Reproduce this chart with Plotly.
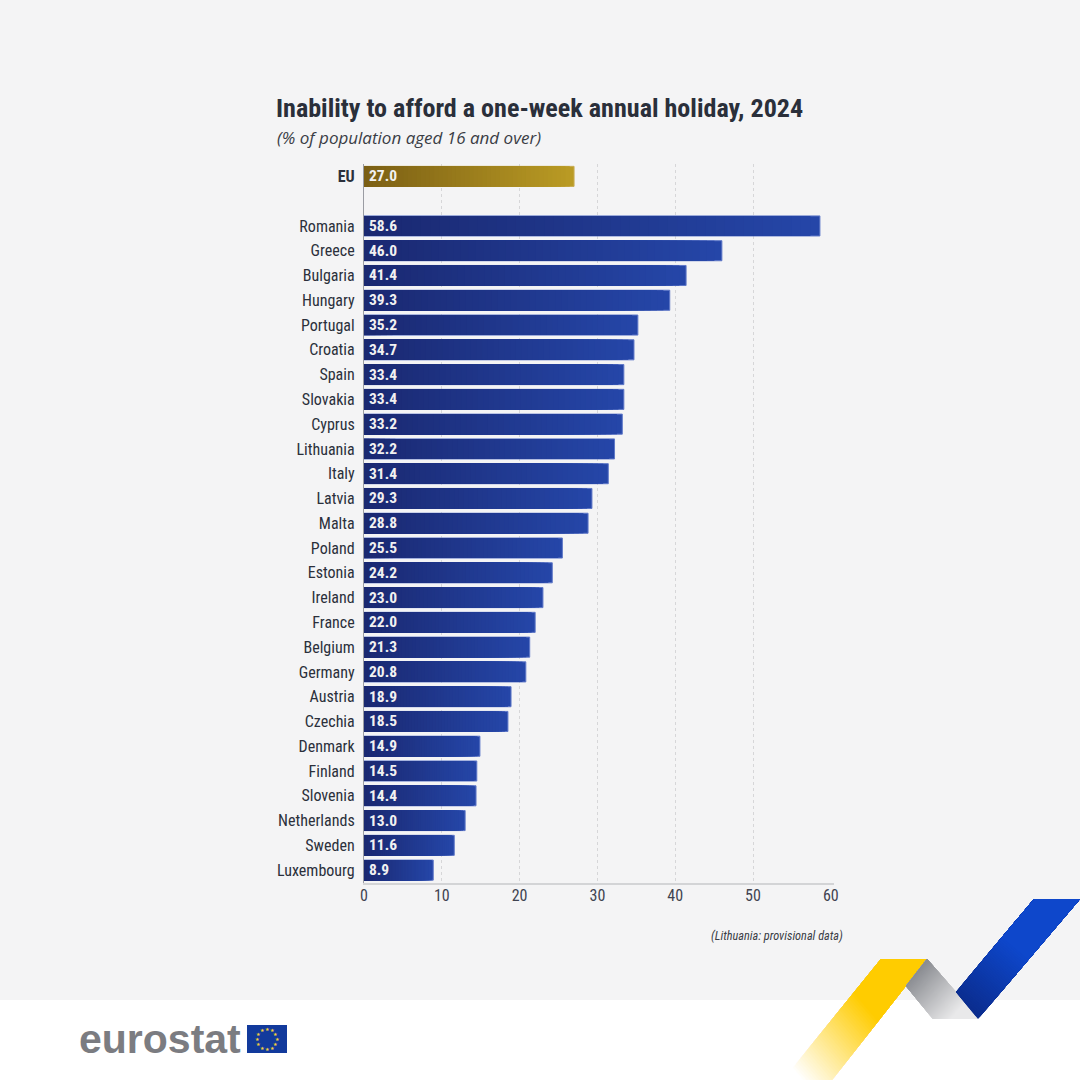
import numpy as np
import plotly.graph_objects as go

# Share of people unable to afford a one-week annual holiday, 2024 (%)
eu_label = "EU"
eu_value = 27.0
countries = ["Romania", "Greece", "Bulgaria", "Hungary", "Portugal", "Croatia", "Spain",
             "Slovakia", "Cyprus", "Lithuania", "Italy", "Latvia", "Malta", "Poland",
             "Estonia", "Ireland", "France", "Belgium", "Germany", "Austria", "Czechia",
             "Denmark", "Finland", "Slovenia", "Netherlands", "Sweden", "Luxembourg"]
country_values = [58.6, 46.0, 41.4, 39.3, 35.2, 34.7, 33.4, 33.4, 33.2, 32.2, 31.4, 29.3, 28.8,
                  25.5, 24.2, 23.0, 22.0, 21.3, 20.8, 18.9, 18.5, 14.9, 14.5, 14.4, 13.0, 11.6, 8.9]
x_ticks = [0, 10, 20, 30, 40, 50, 60]
title_text = "Inability to afford a one-week annual holiday, 2024"
subtitle_text = "(% of population aged 16 and over)"
note_text = "(Lithuania: provisional data)"

W, H = 1080, 1080
NARROW = "Roboto Condensed, Open Sans Condensed, sans-serif"
INK = "#2b303b"
PX_PER_UNIT = 7.78
PLOT_LEFT, PLOT_RIGHT, PLOT_TOP, PLOT_BOTTOM = 364, 834, 164, 882.5


def px(x):
    return x / W


def py(y):
    return 1 - y / H


def mix(a, b, t):
    return tuple(a[i] + (b[i] - a[i]) * t for i in range(3))


def rgb(c):
    return "rgb(%d,%d,%d)" % tuple(round(v) for v in c)


def clip(poly, origin, axis, limit):
    """Keep the part of a polygon whose projection on axis is at most limit."""
    out = []
    d = [(p[0] - origin[0]) * axis[0] + (p[1] - origin[1]) * axis[1] - limit for p in poly]
    for i, p in enumerate(poly):
        q, dp, dq = poly[(i + 1) % len(poly)], d[i], d[(i + 1) % len(poly)]
        if dp <= 0:
            out.append(p)
        if dp * dq < 0:
            t = dp / (dp - dq)
            out.append((p[0] + (q[0] - p[0]) * t, p[1] + (q[1] - p[1]) * t))
    return out


def ribbon(poly, start, end, c0, c1, steps=40):
    """Polygon with a linear colour ramp, painted as overlapping shrinking shapes."""
    dx, dy = end[0] - start[0], end[1] - start[1]
    length = (dx * dx + dy * dy) ** 0.5
    axis = (dx / length, dy / length)
    shapes = [dict(type="path", xref="paper", yref="paper", layer="above", line_width=0,
                   fillcolor=rgb(c1),
                   path="M" + "L".join(f"{px(a):.5f},{py(b):.5f}" for a, b in poly) + "Z")]
    for k in range(steps - 1, -1, -1):
        limit = length * (k + 1) / (steps + 1)
        part = clip(poly, start, axis, limit)
        if len(part) < 3:
            continue
        shapes.append(dict(type="path", xref="paper", yref="paper", layer="above", line_width=0,
                           fillcolor=rgb(mix(c0, c1, k / steps)),
                           path="M" + "L".join(f"{px(a):.5f},{py(b):.5f}" for a, b in part) + "Z"))
    return shapes


categories = [eu_label, " "] + countries
values = np.array([eu_value, np.nan] + country_values)
is_eu = np.array([c == eu_label for c in categories])

fig = go.Figure()

# Bars fade from dark to bright along their own length: shorter copies are stacked
# over the full bar, each with a slightly darker fill.
BLUE_DARK, BLUE_LIGHT = (26, 40, 112), (37, 70, 168)
GOLD_DARK, GOLD_LIGHT = (122, 94, 20), (186, 155, 36)
bands = 48
for k in range(bands, 0, -1):
    f = k / bands
    colors = [rgb(mix(GOLD_DARK, GOLD_LIGHT, f)) if e else rgb(mix(BLUE_DARK, BLUE_LIGHT, f)) for e in is_eu]
    edge = ["#c9ad55" if e else "#5f78c8" for e in is_eu] if k == bands else None
    fig.add_trace(go.Bar(
        y=categories, x=values * f, orientation="h", width=0.81,
        marker=dict(color=colors, line=dict(color=edge, width=1 if k == bands else 0)),
        showlegend=False, hoverinfo="skip" if k != bands else "x+y",
    ))

annotations = []
for c, v in zip(categories, values):
    if np.isnan(v):
        continue
    annotations.append(dict(x=0, y=c, xref="x", yref="y", text=f"<b>{v:.1f}</b>", showarrow=False,
                            xanchor="left", xshift=3, yshift=0,
                            font=dict(family=NARROW, size=15.5, color="#f1f1f1")))


def label(x, y, text, size, color=INK, anchor="left", family=NARROW):
    annotations.append(dict(x=px(x), y=py(y), xref="paper", yref="paper", text=text, showarrow=False,
                            xanchor=anchor, yanchor="middle", font=dict(family=family, size=size, color=color)))


label(274, 108, f"<b>{title_text}</b>", 26.1, "#2a2f3a")
label(275, 137, f"<i>{subtitle_text}</i>", 17, "#3a3d45", family="Open Sans, sans-serif")
label(845, 936, f"<i>{note_text}</i>", 12.3, "#3a3d45", anchor="right")

# Eurostat wordmark and flag
label(77, 1039, "<b>eurostat</b>", 41, "#7b7c81", family="Liberation Sans, Arial, sans-serif")

shapes = [dict(type="rect", xref="paper", yref="paper", x0=0, x1=1, y0=py(1000), y1=1, layer="below",
               line_width=0, fillcolor="#f4f4f5")]

# Ribbon device in the lower right corner
YELLOW = (255, 204, 0)
WHITE = (255, 255, 255)
shapes += ribbon([(881, 959), (927, 959), (832, 1080), (783, 1080)], (878, 1018), (802, 1082), YELLOW, WHITE)
shapes += ribbon([(927, 959), (906, 986), (933, 1019), (978, 1019), (956, 992)], (916, 972), (958, 1012),
                 (139, 141, 146), (233, 233, 234))
shapes += ribbon([(1034, 899), (1080, 899), (978, 1019), (956, 992)], (1020, 950), (968, 1012),
                 (14, 71, 203), (11, 44, 140))

# EU flag with its circle of twelve stars
FLAG_X0, FLAG_X1, FLAG_Y0, FLAG_Y1 = 247, 287, 1025, 1053
shapes.append(dict(type="rect", xref="paper", yref="paper", x0=px(FLAG_X0), x1=px(FLAG_X1),
                   y0=py(FLAG_Y1), y1=py(FLAG_Y0), line_width=0, fillcolor="#123a9c", layer="above"))
for i in range(12):
    a = i * np.pi / 6
    label(267 + 10 * np.sin(a), 1039 - 10 * np.cos(a), "★", 5, "#f3d23c", anchor="center",
          family="DejaVu Sans, sans-serif")

fig.update_layout(
    width=W, height=H, autosize=False, margin=dict(l=0, r=0, t=0, b=0, autoexpand=False),
    paper_bgcolor="white", plot_bgcolor="rgba(0,0,0,0)", barmode="overlay", bargap=0.19,
    annotations=annotations, shapes=shapes, showlegend=False,
    xaxis=dict(
        domain=[px(PLOT_LEFT), px(PLOT_RIGHT)],
        range=[0, (PLOT_RIGHT - PLOT_LEFT) / PX_PER_UNIT],
        tickvals=x_ticks, ticks="", showgrid=False, zeroline=False,
        showline=True, linecolor="#d3d4d6", linewidth=1.5, anchor="y",
        ticklabelstandoff=-2,
        tickfont=dict(family=NARROW, size=16, color="#3f4350"),
        minor=dict(tickvals=[10, 20, 30, 40, 50, (PLOT_RIGHT - PLOT_LEFT) / PX_PER_UNIT], showgrid=True,
                   gridcolor="#d6d6d8", griddash="3px,3px", gridwidth=1, ticks=""),
    ),
    yaxis=dict(
        domain=[py(PLOT_BOTTOM), py(PLOT_TOP)],
        type="category", categoryorder="array", categoryarray=categories,
        range=[len(categories) - 0.5, -0.5],
        tickvals=categories,
        ticktext=["<b>EU</b>" if c == eu_label else c for c in categories],
        ticks="outside", ticklen=5, tickcolor="rgba(0,0,0,0)", showgrid=False, zeroline=False,
        showline=True, linecolor="#9a9ca3", linewidth=1.2,
        tickfont=dict(family=NARROW, size=16, color=INK),
    ),
)

fig.write_html("out.html")
